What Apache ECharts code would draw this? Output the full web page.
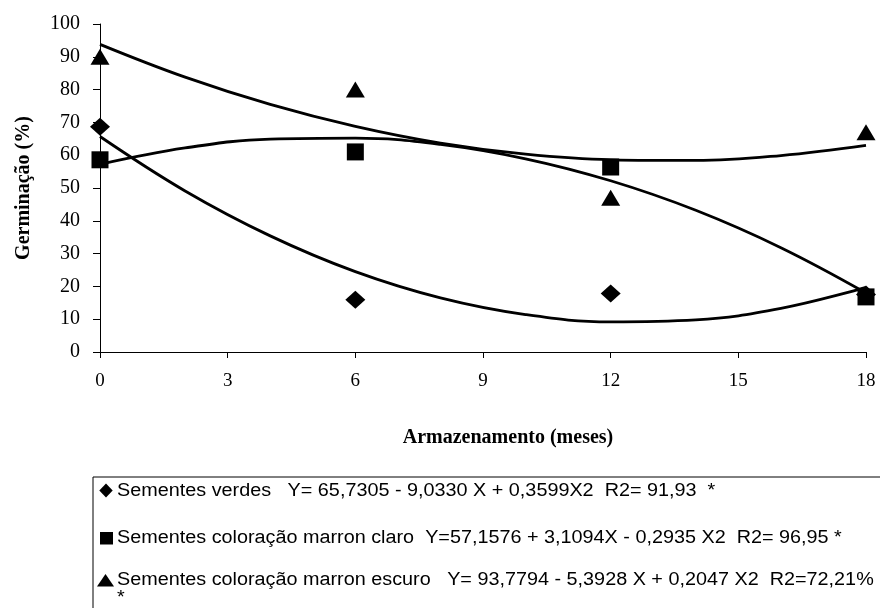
<!DOCTYPE html>
<html>
<head>
<meta charset="utf-8">
<script src="https://cdn.jsdelivr.net/npm/echarts@6/dist/echarts.min.js"></script>
<style>
  html, body { margin: 0; padding: 0; background: #fff; }
  #chart { width: 880px; height: 608px; }
</style>
</head>
<body>
<div id="chart"></div>
<script>
// meses de armazenamento (pontos observados)
const meses = [0, 6, 12, 18];
const verdes = [68.7, 15.9, 17.8, 17.5];
const marronClaro = [58.6, 61, 56.4, 16.8];
const marronEscuro = [90, 80, 47, 67];

// curvas ajustadas
const curvaX = [0, 2, 4, 6, 8, 10, 12, 14, 16, 18];
const curvaVerdes = [65.7, 49.1, 35.4, 24.5, 16.5, 11.4, 9.2, 9.8, 13.3, 19.7];
const curvaClaro = [57.2, 62.2, 64.9, 65.2, 63.3, 58.9, 52.2, 43.2, 31.8, 18.0];
const curvaEscuro = [93.8, 83.8, 75.5, 68.8, 63.7, 60.3, 58.6, 58.4, 59.9, 63.0];

const legendas = [
  'Sementes verdes   Y= 65,7305 - 9,0330 X + 0,3599X2  R2= 91,93  *',
  'Sementes coloração marron claro  Y=57,1576 + 3,1094X - 0,2935 X2  R2= 96,95 *',
  'Sementes coloração marron escuro   Y= 93,7794 - 5,3928 X + 0,2047 X2  R2=72,21%',
  '*'
];

const pares = (xs, ys) => xs.map((x, i) => [x, ys[i]]);

const serif = '"Liberation Serif", "Times New Roman", serif';
const sans = '"Liberation Sans", Arial, sans-serif';

function curva(dados) {
  return {
    type: 'line',
    data: pares(curvaX, dados),
    smooth: 0.4,
    showSymbol: false,
    silent: true,
    lineStyle: { color: '#000', width: 2.8 },
    z: 2
  };
}

function pontos(dados, simbolo, tamanho) {
  return {
    type: 'scatter',
    data: pares(meses, dados),
    symbol: simbolo,
    symbolSize: tamanho,
    itemStyle: { color: '#000', opacity: 1 },
    z: 3
  };
}

function linhaLegenda(texto, y) {
  return {
    type: 'text',
    x: 117,
    y: y,
    scaleX: 1.1,
    style: {
      text: texto,
      fontSize: 18,
      fontFamily: sans,
      fill: '#000',
      verticalAlign: 'middle'
    }
  };
}

const chart = echarts.init(document.getElementById('chart'));
chart.setOption({
  animation: false,
  backgroundColor: '#fff',
  grid: { left: 100, right: 14, top: 24, bottom: 256 },
  xAxis: {
    type: 'value',
    min: 0,
    max: 18,
    interval: 3,
    name: 'Armazenamento (meses)',
    nameLocation: 'middle',
    nameGap: 76,
    nameTextStyle: {
      fontFamily: serif, fontWeight: 'bold', fontSize: 20, color: '#000',
      padding: [0, 0, 0, 50]
    },
    axisLine: { lineStyle: { color: '#000', width: 1 } },
    axisTick: { show: true, length: 6, lineStyle: { color: '#000' } },
    axisLabel: { fontFamily: serif, fontSize: 19, color: '#000', margin: 20 },
    splitLine: { show: false }
  },
  yAxis: {
    type: 'value',
    min: 0,
    max: 100,
    interval: 10,
    name: 'Germinação (%)',
    nameLocation: 'middle',
    nameGap: 66,
    nameTextStyle: { fontFamily: serif, fontWeight: 'bold', fontSize: 20, color: '#000' },
    axisLine: { show: true, lineStyle: { color: '#000', width: 1 } },
    axisTick: { show: true, length: 7, lineStyle: { color: '#000' } },
    axisLabel: { fontFamily: serif, fontSize: 20, color: '#000', margin: 20 },
    splitLine: { show: false }
  },
  series: [
    curva(curvaVerdes),
    curva(curvaClaro),
    curva(curvaEscuro),
    pontos(verdes, 'diamond', [20, 18]),
    pontos(marronEscuro, 'triangle', [19, 16]),
    pontos(marronClaro, 'rect', [17, 17])
  ],
  graphic: [
    {
      type: 'rect',
      shape: { x: 93, y: 477, width: 820, height: 180 },
      style: { fill: 'none', stroke: '#000', lineWidth: 1 }
    },
    {
      type: 'polygon',
      shape: { points: [[106, 483.5], [112.7, 490.5], [106, 497.5], [99.3, 490.5]] },
      style: { fill: '#000' }
    },
    {
      type: 'rect',
      shape: { x: 100, y: 532, width: 13, height: 12.5 },
      style: { fill: '#000' }
    },
    {
      type: 'polygon',
      shape: { points: [[105.5, 574], [114, 586.5], [97, 586.5]] },
      style: { fill: '#000' }
    },
    linhaLegenda(legendas[0], 491),
    linhaLegenda(legendas[1], 538),
    linhaLegenda(legendas[2], 580),
    linhaLegenda(legendas[3], 598)
  ]
});
</script>
</body>
</html>
